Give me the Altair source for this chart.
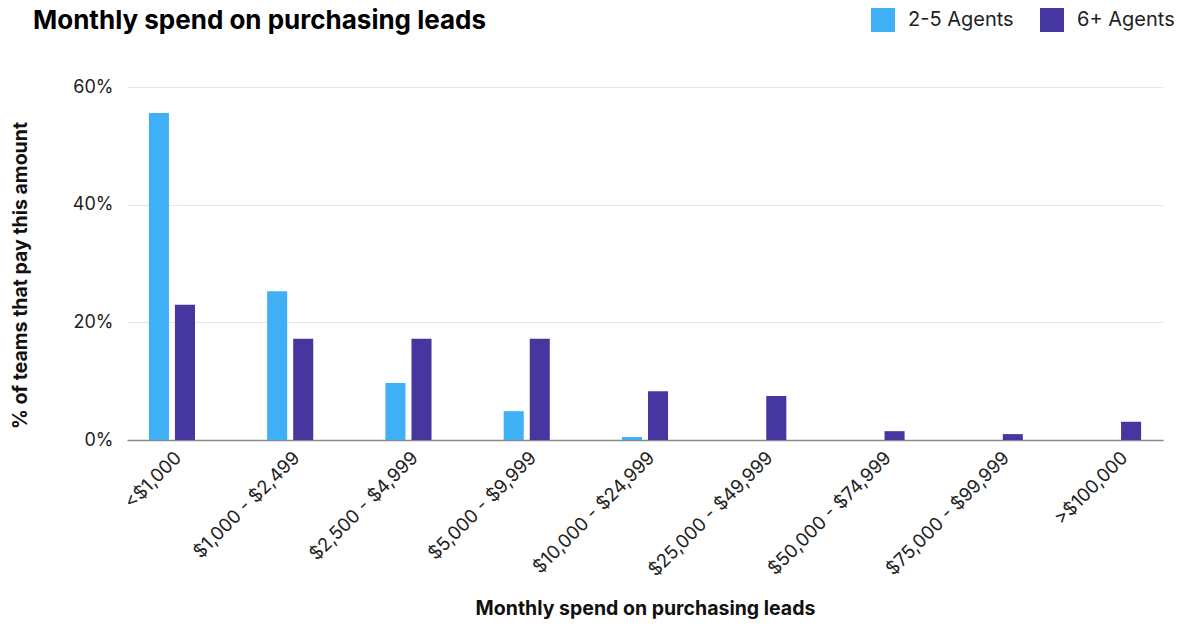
import altair as alt
import pandas as pd

categories = ["<$1,000", "$1,000 - $2,499", "$2,500 - $4,999", "$5,000 - $9,999",
              "$10,000 - $24,999", "$25,000 - $49,999", "$50,000 - $74,999",
              "$75,000 - $99,999", ">$100,000"]
series = ["2-5 Agents", "6+ Agents"]
small_teams = [55.6, 25.3, 9.7, 4.9, 0.5, 0.0, 0.0, 0.0, 0.0]
large_teams = [23.0, 17.2, 17.2, 17.2, 8.3, 7.5, 1.5, 1.0, 3.1]
colors = ["#40b0f6", "#46369f"]

rows = []
for c, a, b in zip(categories, small_teams, large_teams):
    rows.append({"spend": c, "team": series[0], "pct": a})
    rows.append({"spend": c, "team": series[1], "pct": b})
df = pd.DataFrame(rows)

FONT = "Inter"

chart = alt.Chart(df).mark_bar().encode(
    x=alt.X("spend:N", sort=categories,
            scale=alt.Scale(paddingInner=0.5, paddingOuter=0.13),
            axis=alt.Axis(title="Monthly spend on purchasing leads", labelAngle=-45,
                          labelFontSize=18.5, labelColor="#222", labelFont=FONT,
                          labelPadding=8, ticks=False, domainColor="#8a8a8a",
                          domainWidth=1.5, titleFontSize=19.5, titleFontWeight="bold",
                          titleFont=FONT, titleColor="#111", titlePadding=20)),
    xOffset=alt.XOffset("team:N", sort=series,
                        scale=alt.Scale(paddingInner=0.23, paddingOuter=0.25)),
    y=alt.Y("pct:Q", scale=alt.Scale(domain=[0, 60], nice=False),
            axis=alt.Axis(title="% of teams that pay this amount", values=[0, 20, 40, 60],
                          labelExpr="datum.value + '%'", labelFontSize=18,
                          labelColor="#222", labelFont=FONT, labelPadding=14,
                          ticks=False, domain=False, gridColor="#e6e6e6",
                          titleFontSize=19.5, titleFontWeight="bold", titleFont=FONT,
                          titleColor="#111", titlePadding=42, titleY=188)),
    color=alt.Color("team:N", sort=series,
                    scale=alt.Scale(domain=series, range=colors),
                    legend=alt.Legend(title=None, orient="none", direction="horizontal",
                                      legendX=744, legendY=-79, symbolType="square",
                                      symbolSize=576, symbolStrokeWidth=0,
                                      symbolOpacity=1, labelFontSize=20,
                                      labelFont=FONT, labelColor="#222",
                                      labelOffset=13, columnPadding=26)),
).properties(
    width=1036, height=353,
    title=alt.TitleParams("Monthly spend on purchasing leads", anchor="start",
                          frame="group", fontSize=26, fontWeight="bold", font=FONT,
                          color="#000", dx=-94, dy=30),
    autosize=alt.AutoSizeParams(type="none"),
    padding={"left": 127, "top": 87, "right": 19, "bottom": 190},
).configure(background="white").configure_view(stroke=None)

chart.save("out.html", embed_options={"renderer": "svg", "actions": False})
